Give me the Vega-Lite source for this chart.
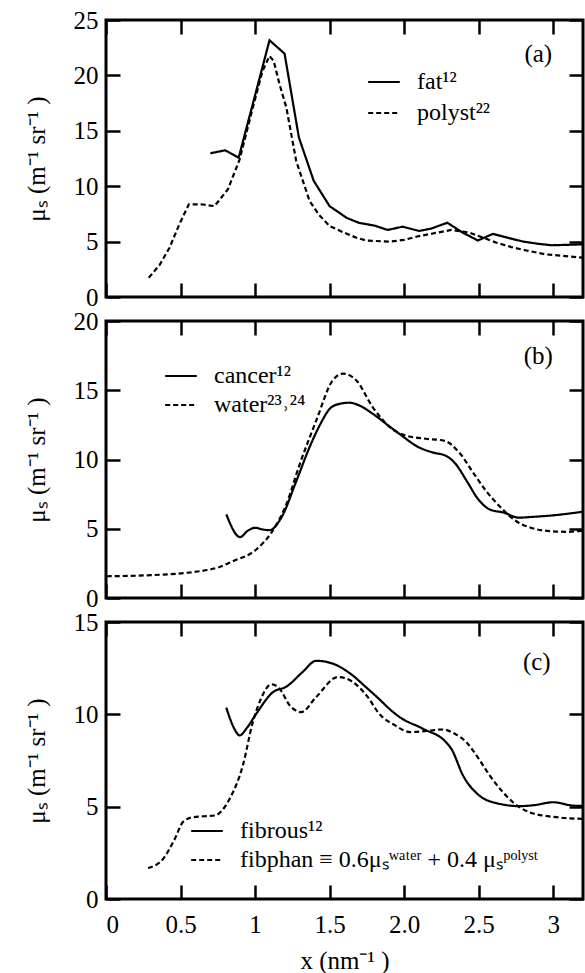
{
  "$schema": "https://vega.github.io/schema/vega-lite/v6.json",
  "background": "white",
  "padding": {"left": 22, "top": 6, "right": 0, "bottom": 0},
  "spacing": -5,
  "config": {
    "font": "Liberation Serif",
    "view": {"stroke": "black", "strokeWidth": 3},
    "axis": {
      "labelFont": "Liberation Serif", "labelFontSize": 25, "labelColor": "black",
      "titleFont": "Liberation Serif", "titleFontSize": 25, "titleFontWeight": "normal", "titleColor": "black",
      "tickColor": "black", "tickWidth": 2.5, "tickSize": -14, "domain": false, "grid": false,
      "labelPadding": 22, "titlePadding": 24
    },
    "legend": {
      "orient": "none", "title": null, "labelFont": "Liberation Serif", "labelFontSize": 24, "labelColor": "black",
      "symbolType": "stroke", "symbolSize": 1000, "symbolStrokeWidth": 2.2, "symbolStrokeColor": "black",
      "labelOffset": 16, "labelLimit": 0
    },
    "text": {"font": "Liberation Serif", "fontSize": 25, "color": "black"}
  },
  "datasets": {
    "a": [
      {"x": 0.70, "y": 12.97, "s": "fat¹²"}, {"x": 0.80, "y": 13.24, "s": "fat¹²"}, {"x": 0.89, "y": 12.57, "s": "fat¹²"},
      {"x": 1.097, "y": 23.17, "s": "fat¹²"}, {"x": 1.198, "y": 21.96, "s": "fat¹²"}, {"x": 1.294, "y": 14.4, "s": "fat¹²"},
      {"x": 1.393, "y": 10.5, "s": "fat¹²"}, {"x": 1.5, "y": 8.2, "s": "fat¹²"}, {"x": 1.616, "y": 7.13, "s": "fat¹²"},
      {"x": 1.70, "y": 6.68, "s": "fat¹²"}, {"x": 1.80, "y": 6.45, "s": "fat¹²"}, {"x": 1.89, "y": 6.05, "s": "fat¹²"},
      {"x": 1.99, "y": 6.35, "s": "fat¹²"}, {"x": 2.1, "y": 5.96, "s": "fat¹²"}, {"x": 2.18, "y": 6.17, "s": "fat¹²"},
      {"x": 2.29, "y": 6.7, "s": "fat¹²"}, {"x": 2.397, "y": 5.78, "s": "fat¹²"}, {"x": 2.495, "y": 5.1, "s": "fat¹²"},
      {"x": 2.596, "y": 5.7, "s": "fat¹²"}, {"x": 2.699, "y": 5.33, "s": "fat¹²"}, {"x": 2.80, "y": 5.0, "s": "fat¹²"},
      {"x": 2.90, "y": 4.8, "s": "fat¹²"}, {"x": 2.99, "y": 4.67, "s": "fat¹²"}, {"x": 3.2, "y": 4.75, "s": "fat¹²"},
      {"x": 0.287, "y": 1.74, "s": "polyst²²"}, {"x": 0.36, "y": 2.9, "s": "polyst²²"}, {"x": 0.426, "y": 4.45, "s": "polyst²²"},
      {"x": 0.49, "y": 6.5, "s": "polyst²²"}, {"x": 0.556, "y": 8.37, "s": "polyst²²"}, {"x": 0.65, "y": 8.35, "s": "polyst²²"},
      {"x": 0.728, "y": 8.2, "s": "polyst²²"}, {"x": 0.818, "y": 9.72, "s": "polyst²²"}, {"x": 0.896, "y": 12.4, "s": "polyst²²"},
      {"x": 0.985, "y": 17.1, "s": "polyst²²"}, {"x": 1.05, "y": 20.4, "s": "polyst²²"}, {"x": 1.097, "y": 21.75, "s": "polyst²²"},
      {"x": 1.125, "y": 21.3, "s": "polyst²²"}, {"x": 1.164, "y": 19.2, "s": "polyst²²"}, {"x": 1.21, "y": 17.1, "s": "polyst²²"},
      {"x": 1.276, "y": 12.27, "s": "polyst²²"}, {"x": 1.366, "y": 8.66, "s": "polyst²²"}, {"x": 1.43, "y": 7.4, "s": "polyst²²"},
      {"x": 1.5, "y": 6.4, "s": "polyst²²"}, {"x": 1.59, "y": 5.85, "s": "polyst²²"}, {"x": 1.68, "y": 5.35, "s": "polyst²²"},
      {"x": 1.746, "y": 5.1, "s": "polyst²²"}, {"x": 1.90, "y": 4.99, "s": "polyst²²"}, {"x": 2.0, "y": 5.15, "s": "polyst²²"},
      {"x": 2.1, "y": 5.5, "s": "polyst²²"}, {"x": 2.2, "y": 5.75, "s": "polyst²²"}, {"x": 2.317, "y": 6.05, "s": "polyst²²"},
      {"x": 2.44, "y": 5.8, "s": "polyst²²"}, {"x": 2.53, "y": 5.35, "s": "polyst²²"}, {"x": 2.62, "y": 4.9, "s": "polyst²²"},
      {"x": 2.72, "y": 4.5, "s": "polyst²²"}, {"x": 2.82, "y": 4.2, "s": "polyst²²"}, {"x": 2.95, "y": 3.85, "s": "polyst²²"},
      {"x": 3.2, "y": 3.55, "s": "polyst²²"}
    ],
    "b": [
      {"x": 0.807, "y": 6.04, "s": "cancer¹²"}, {"x": 0.90, "y": 4.4, "s": "cancer¹²"}, {"x": 0.95, "y": 4.85, "s": "cancer¹²"},
      {"x": 1.0, "y": 5.07, "s": "cancer¹²"}, {"x": 1.05, "y": 4.95, "s": "cancer¹²"}, {"x": 1.097, "y": 4.9, "s": "cancer¹²"},
      {"x": 1.176, "y": 5.8, "s": "cancer¹²"}, {"x": 1.277, "y": 8.45, "s": "cancer¹²"}, {"x": 1.366, "y": 10.9, "s": "cancer¹²"},
      {"x": 1.44, "y": 12.6, "s": "cancer¹²"}, {"x": 1.5, "y": 13.65, "s": "cancer¹²"}, {"x": 1.56, "y": 14.0, "s": "cancer¹²"},
      {"x": 1.634, "y": 14.1, "s": "cancer¹²"}, {"x": 1.70, "y": 13.9, "s": "cancer¹²"}, {"x": 1.79, "y": 13.3, "s": "cancer¹²"},
      {"x": 1.894, "y": 12.45, "s": "cancer¹²"}, {"x": 1.97, "y": 11.84, "s": "cancer¹²"}, {"x": 2.095, "y": 10.9, "s": "cancer¹²"},
      {"x": 2.195, "y": 10.5, "s": "cancer¹²"}, {"x": 2.28, "y": 10.27, "s": "cancer¹²"}, {"x": 2.347, "y": 9.66, "s": "cancer¹²"},
      {"x": 2.42, "y": 8.45, "s": "cancer¹²"}, {"x": 2.497, "y": 7.13, "s": "cancer¹²"}, {"x": 2.573, "y": 6.4, "s": "cancer¹²"},
      {"x": 2.67, "y": 6.16, "s": "cancer¹²"}, {"x": 2.77, "y": 5.8, "s": "cancer¹²"}, {"x": 2.85, "y": 5.85, "s": "cancer¹²"},
      {"x": 3.0, "y": 5.97, "s": "cancer¹²"}, {"x": 3.2, "y": 6.23, "s": "cancer¹²"},
      {"x": 0.005, "y": 1.57, "s": "water²³˒²⁴"}, {"x": 0.282, "y": 1.64, "s": "water²³˒²⁴"}, {"x": 0.534, "y": 1.81, "s": "water²³˒²⁴"},
      {"x": 0.628, "y": 1.93, "s": "water²³˒²⁴"}, {"x": 0.75, "y": 2.2, "s": "water²³˒²⁴"}, {"x": 0.851, "y": 2.66, "s": "water²³˒²⁴"},
      {"x": 1.008, "y": 3.5, "s": "water²³˒²⁴"}, {"x": 1.109, "y": 4.71, "s": "water²³˒²⁴"}, {"x": 1.21, "y": 6.77, "s": "water²³˒²⁴"},
      {"x": 1.30, "y": 9.67, "s": "water²³˒²⁴"}, {"x": 1.41, "y": 12.8, "s": "water²³˒²⁴"}, {"x": 1.52, "y": 15.7, "s": "water²³˒²⁴"},
      {"x": 1.59, "y": 16.2, "s": "water²³˒²⁴"}, {"x": 1.68, "y": 15.7, "s": "water²³˒²⁴"}, {"x": 1.79, "y": 13.77, "s": "water²³˒²⁴"},
      {"x": 1.92, "y": 12.2, "s": "water²³˒²⁴"}, {"x": 2.02, "y": 11.7, "s": "water²³˒²⁴"}, {"x": 2.145, "y": 11.5, "s": "water²³˒²⁴"},
      {"x": 2.27, "y": 11.35, "s": "water²³˒²⁴"}, {"x": 2.37, "y": 10.5, "s": "water²³˒²⁴"}, {"x": 2.47, "y": 8.94, "s": "water²³˒²⁴"},
      {"x": 2.55, "y": 7.73, "s": "water²³˒²⁴"}, {"x": 2.65, "y": 6.52, "s": "water²³˒²⁴"}, {"x": 2.75, "y": 5.56, "s": "water²³˒²⁴"},
      {"x": 2.85, "y": 5.07, "s": "water²³˒²⁴"}, {"x": 2.98, "y": 4.83, "s": "water²³˒²⁴"}, {"x": 3.1, "y": 4.78, "s": "water²³˒²⁴"},
      {"x": 3.2, "y": 4.88, "s": "water²³˒²⁴"}
    ],
    "c": [
      {"x": 0.807, "y": 10.36, "s": "fibrous¹²"}, {"x": 0.861, "y": 9.22, "s": "fibrous¹²"}, {"x": 0.896, "y": 8.86, "s": "fibrous¹²"},
      {"x": 0.949, "y": 9.31, "s": "fibrous¹²"}, {"x": 1.008, "y": 10.03, "s": "fibrous¹²"}, {"x": 1.12, "y": 11.2, "s": "fibrous¹²"},
      {"x": 1.21, "y": 11.5, "s": "fibrous¹²"}, {"x": 1.32, "y": 12.3, "s": "fibrous¹²"}, {"x": 1.41, "y": 12.9, "s": "fibrous¹²"},
      {"x": 1.52, "y": 12.75, "s": "fibrous¹²"}, {"x": 1.656, "y": 12.1, "s": "fibrous¹²"}, {"x": 1.74, "y": 11.5, "s": "fibrous¹²"},
      {"x": 1.836, "y": 10.8, "s": "fibrous¹²"}, {"x": 1.894, "y": 10.35, "s": "fibrous¹²"}, {"x": 1.97, "y": 9.85, "s": "fibrous¹²"},
      {"x": 2.126, "y": 9.22, "s": "fibrous¹²"}, {"x": 2.28, "y": 8.5, "s": "fibrous¹²"}, {"x": 2.317, "y": 8.13, "s": "fibrous¹²"},
      {"x": 2.395, "y": 6.69, "s": "fibrous¹²"}, {"x": 2.505, "y": 5.6, "s": "fibrous¹²"}, {"x": 2.62, "y": 5.19, "s": "fibrous¹²"},
      {"x": 2.775, "y": 5.03, "s": "fibrous¹²"}, {"x": 2.87, "y": 5.08, "s": "fibrous¹²"}, {"x": 3.0, "y": 5.24, "s": "fibrous¹²"},
      {"x": 3.13, "y": 5.06, "s": "fibrous¹²"}, {"x": 3.2, "y": 5.04, "s": "fibrous¹²"},
      {"x": 0.282, "y": 1.68, "s": "fibphan ≡ 0.6μₛʷᵃᵗᵉʳ + 0.4 μₛᵖᵒˡʸˢᵗ"}, {"x": 0.383, "y": 2.17, "s": "fibphan ≡ 0.6μₛʷᵃᵗᵉʳ + 0.4 μₛᵖᵒˡʸˢᵗ"},
      {"x": 0.458, "y": 3.2, "s": "fibphan ≡ 0.6μₛʷᵃᵗᵉʳ + 0.4 μₛᵖᵒˡʸˢᵗ"}, {"x": 0.52, "y": 4.2, "s": "fibphan ≡ 0.6μₛʷᵃᵗᵉʳ + 0.4 μₛᵖᵒˡʸˢᵗ"},
      {"x": 0.583, "y": 4.43, "s": "fibphan ≡ 0.6μₛʷᵃᵗᵉʳ + 0.4 μₛᵖᵒˡʸˢᵗ"}, {"x": 0.66, "y": 4.48, "s": "fibphan ≡ 0.6μₛʷᵃᵗᵉʳ + 0.4 μₛᵖᵒˡʸˢᵗ"},
      {"x": 0.728, "y": 4.52, "s": "fibphan ≡ 0.6μₛʷᵃᵗᵉʳ + 0.4 μₛᵖᵒˡʸˢᵗ"}, {"x": 0.829, "y": 5.42, "s": "fibphan ≡ 0.6μₛʷᵃᵗᵉʳ + 0.4 μₛᵖᵒˡʸˢᵗ"},
      {"x": 0.918, "y": 7.23, "s": "fibphan ≡ 0.6μₛʷᵃᵗᵉʳ + 0.4 μₛᵖᵒˡʸˢᵗ"}, {"x": 0.985, "y": 9.58, "s": "fibphan ≡ 0.6μₛʷᵃᵗᵉʳ + 0.4 μₛᵖᵒˡʸˢᵗ"},
      {"x": 1.04, "y": 10.85, "s": "fibphan ≡ 0.6μₛʷᵃᵗᵉʳ + 0.4 μₛᵖᵒˡʸˢᵗ"}, {"x": 1.109, "y": 11.63, "s": "fibphan ≡ 0.6μₛʷᵃᵗᵉʳ + 0.4 μₛᵖᵒˡʸˢᵗ"},
      {"x": 1.164, "y": 11.39, "s": "fibphan ≡ 0.6μₛʷᵃᵗᵉʳ + 0.4 μₛᵖᵒˡʸˢᵗ"}, {"x": 1.232, "y": 10.49, "s": "fibphan ≡ 0.6μₛʷᵃᵗᵉʳ + 0.4 μₛᵖᵒˡʸˢᵗ"},
      {"x": 1.31, "y": 10.12, "s": "fibphan ≡ 0.6μₛʷᵃᵗᵉʳ + 0.4 μₛᵖᵒˡʸˢᵗ"}, {"x": 1.41, "y": 10.94, "s": "fibphan ≡ 0.6μₛʷᵃᵗᵉʳ + 0.4 μₛᵖᵒˡʸˢᵗ"},
      {"x": 1.556, "y": 12.02, "s": "fibphan ≡ 0.6μₛʷᵃᵗᵉʳ + 0.4 μₛᵖᵒˡʸˢᵗ"}, {"x": 1.656, "y": 11.75, "s": "fibphan ≡ 0.6μₛʷᵃᵗᵉʳ + 0.4 μₛᵖᵒˡʸˢᵗ"},
      {"x": 1.75, "y": 11.0, "s": "fibphan ≡ 0.6μₛʷᵃᵗᵉʳ + 0.4 μₛᵖᵒˡʸˢᵗ"}, {"x": 1.836, "y": 10.0, "s": "fibphan ≡ 0.6μₛʷᵃᵗᵉʳ + 0.4 μₛᵖᵒˡʸˢᵗ"},
      {"x": 1.94, "y": 9.4, "s": "fibphan ≡ 0.6μₛʷᵃᵗᵉʳ + 0.4 μₛᵖᵒˡʸˢᵗ"}, {"x": 2.04, "y": 9.04, "s": "fibphan ≡ 0.6μₛʷᵃᵗᵉʳ + 0.4 μₛᵖᵒˡʸˢᵗ"},
      {"x": 2.15, "y": 9.1, "s": "fibphan ≡ 0.6μₛʷᵃᵗᵉʳ + 0.4 μₛᵖᵒˡʸˢᵗ"}, {"x": 2.26, "y": 9.18, "s": "fibphan ≡ 0.6μₛʷᵃᵗᵉʳ + 0.4 μₛᵖᵒˡʸˢᵗ"},
      {"x": 2.34, "y": 8.95, "s": "fibphan ≡ 0.6μₛʷᵃᵗᵉʳ + 0.4 μₛᵖᵒˡʸˢᵗ"}, {"x": 2.417, "y": 8.5, "s": "fibphan ≡ 0.6μₛʷᵃᵗᵉʳ + 0.4 μₛᵖᵒˡʸˢᵗ"},
      {"x": 2.5, "y": 7.6, "s": "fibphan ≡ 0.6μₛʷᵃᵗᵉʳ + 0.4 μₛᵖᵒˡʸˢᵗ"}, {"x": 2.574, "y": 6.69, "s": "fibphan ≡ 0.6μₛʷᵃᵗᵉʳ + 0.4 μₛᵖᵒˡʸˢᵗ"},
      {"x": 2.65, "y": 5.9, "s": "fibphan ≡ 0.6μₛʷᵃᵗᵉʳ + 0.4 μₛᵖᵒˡʸˢᵗ"}, {"x": 2.73, "y": 5.24, "s": "fibphan ≡ 0.6μₛʷᵃᵗᵉʳ + 0.4 μₛᵖᵒˡʸˢᵗ"},
      {"x": 2.84, "y": 4.7, "s": "fibphan ≡ 0.6μₛʷᵃᵗᵉʳ + 0.4 μₛᵖᵒˡʸˢᵗ"}, {"x": 3.02, "y": 4.43, "s": "fibphan ≡ 0.6μₛʷᵃᵗᵉʳ + 0.4 μₛᵖᵒˡʸˢᵗ"},
      {"x": 3.2, "y": 4.34, "s": "fibphan ≡ 0.6μₛʷᵃᵗᵉʳ + 0.4 μₛᵖᵒˡʸˢᵗ"}
    ]
  },
  "resolve": {"scale": {"strokeDash": "independent", "x": "independent", "y": "independent"}, "legend": {"strokeDash": "independent"}},
  "vconcat": [
    {
      "width": 477, "height": 277,
      "layer": [
        {
          "data": {"name": "a"},
          "mark": {"type": "line", "color": "black", "strokeWidth": 2.2},
          "encoding": {
            "x": {"field": "x", "type": "quantitative", "scale": {"domain": [0, 3.2], "nice": false},
                  "axis": {"orient": "bottom", "values": [0, 0.5, 1, 1.5, 2, 2.5, 3], "labels": false, "title": null}},
            "y": {"field": "y", "type": "quantitative", "scale": {"domain": [0, 25], "nice": false},
                  "axis": {"orient": "left", "values": [0, 5, 10, 15, 20, 25], "title": "μₛ (m⁻¹ sr⁻¹ )"}},
            "strokeDash": {"field": "s", "type": "nominal",
                           "scale": {"domain": ["fat¹²", "polyst²²"], "range": [[1, 0], [5, 3]]},
                           "legend": {"legendX": 261, "legendY": 45, "rowPadding": 2}}
          }
        },
        {
          "data": {"values": [{}]},
          "mark": {"type": "text", "align": "center", "baseline": "middle"},
          "encoding": {
            "x": {"datum": 2.9, "type": "quantitative",
                  "axis": {"orient": "top", "values": [0, 0.5, 1, 1.5, 2, 2.5, 3], "labels": false, "title": null}},
            "y": {"datum": 21.9, "type": "quantitative",
                  "axis": {"orient": "right", "values": [0, 5, 10, 15, 20, 25], "labels": false, "title": null}},
            "text": {"value": "(a)"}
          }
        }
      ]
    },
    {
      "width": 477, "height": 277,
      "layer": [
        {
          "data": {"name": "b"},
          "mark": {"type": "line", "color": "black", "strokeWidth": 2.2, "interpolate": "monotone"},
          "encoding": {
            "x": {"field": "x", "type": "quantitative", "scale": {"domain": [0, 3.2], "nice": false},
                  "axis": {"orient": "bottom", "values": [0, 0.5, 1, 1.5, 2, 2.5, 3], "labels": false, "title": null}},
            "y": {"field": "y", "type": "quantitative", "scale": {"domain": [0, 20], "nice": false},
                  "axis": {"orient": "left", "values": [0, 5, 10, 15, 20], "title": "μₛ (m⁻¹ sr⁻¹ )"}},
            "strokeDash": {"field": "s", "type": "nominal",
                           "scale": {"domain": ["cancer¹²", "water²³˒²⁴"], "range": [[1, 0], [5, 3]]},
                           "legend": {"legendX": 58, "legendY": 38, "rowPadding": 0}}
          }
        },
        {
          "data": {"values": [{}]},
          "mark": {"type": "text", "align": "center", "baseline": "middle"},
          "encoding": {
            "x": {"datum": 2.9, "type": "quantitative",
                  "axis": {"orient": "top", "values": [0, 0.5, 1, 1.5, 2, 2.5, 3], "labels": false, "title": null}},
            "y": {"datum": 17.5, "type": "quantitative",
                  "axis": {"orient": "right", "values": [0, 5, 10, 15, 20], "labels": false, "title": null}},
            "text": {"value": "(b)"}
          }
        }
      ]
    },
    {
      "width": 477, "height": 277,
      "layer": [
        {
          "data": {"name": "c"},
          "mark": {"type": "line", "color": "black", "strokeWidth": 2.2, "interpolate": "monotone"},
          "encoding": {
            "x": {"field": "x", "type": "quantitative", "scale": {"domain": [0, 3.2], "nice": false},
                  "axis": {"orient": "bottom", "values": [0, 0.5, 1, 1.5, 2, 2.5, 3], "title": "x (nm⁻¹ )",
                           "labelExpr": "datum.value == 2 ? '2.0' : '' + datum.value", "labelPadding": 27, "titlePadding": 11}},
            "y": {"field": "y", "type": "quantitative", "scale": {"domain": [0, 15], "nice": false},
                  "axis": {"orient": "left", "values": [0, 5, 10, 15], "title": "μₛ (m⁻¹ sr⁻¹ )"}},
            "strokeDash": {"field": "s", "type": "nominal",
                           "scale": {"domain": ["fibrous¹²", "fibphan ≡ 0.6μₛʷᵃᵗᵉʳ + 0.4 μₛᵖᵒˡʸˢᵗ"], "range": [[1, 0], [5, 3]]},
                           "legend": {"legendX": 84, "legendY": 192, "rowPadding": 0}}
          }
        },
        {
          "data": {"values": [{}]},
          "mark": {"type": "text", "align": "center", "baseline": "middle"},
          "encoding": {
            "x": {"datum": 2.89, "type": "quantitative",
                  "axis": {"orient": "top", "values": [0, 0.5, 1, 1.5, 2, 2.5, 3], "labels": false, "title": null}},
            "y": {"datum": 12.84, "type": "quantitative",
                  "axis": {"orient": "right", "values": [0, 5, 10, 15], "labels": false, "title": null}},
            "text": {"value": "(c)"}
          }
        }
      ]
    }
  ]
}
